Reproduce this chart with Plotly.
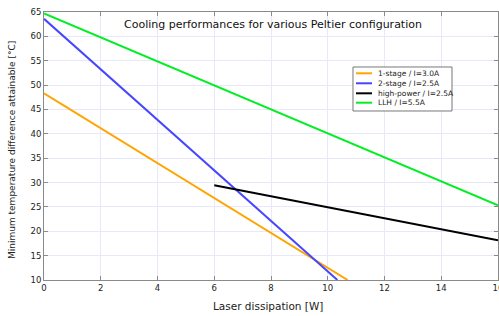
import plotly.graph_objects as go

# Data
series_names = ["1-stage / I=3.0A", "2-stage / I=2.5A", "high-power / I=2.5A", "LLH / I=5.5A"]
x_1stage = [0.0, 10.7]
y_1stage = [48.3, 10.0]
x_2stage = [0.0, 10.34]
y_2stage = [63.6, 10.0]
x_highpower = [6.0, 10.0, 12.0, 16.0]
y_highpower = [29.45, 24.9, 22.7, 18.15]
x_llh = [0.0, 16.0]
y_llh = [64.7, 25.3]
colors = ["#FFA500", "#4646FF", "#000000", "#00EE22"]

x_ticks = [0, 2, 4, 6, 8, 10, 12, 14, 16]
y_ticks = [10, 15, 20, 25, 30, 35, 40, 45, 50, 55, 60, 65]

title_text = "Cooling performances for various Peltier configuration"
x_title = "Laser dissipation [W]"
y_title = "Minimum temperature difference attainable [°C]"

FONT = "DejaVu Sans"

fig = go.Figure()
for name, xs, ys, c in zip(series_names,
                           [x_1stage, x_2stage, x_highpower, x_llh],
                           [y_1stage, y_2stage, y_highpower, y_llh],
                           colors):
    fig.add_trace(go.Scatter(x=xs, y=ys, mode="lines", name=name,
                             line=dict(color=c, width=2), showlegend=False))

axis_common = dict(
    showline=True, linecolor="#8a8a8a", linewidth=1, mirror="ticks",
    ticks="inside", ticklen=4, tickcolor="#8a8a8a",
    showgrid=True, gridcolor="#E8E8FA", gridwidth=1, zeroline=False,
    tickfont=dict(family=FONT, size=8.5, color="#222"),
    automargin=False, ticklabeloverflow="allow",
)

# Manual legend (box, line samples, labels) in paper coordinates
shapes = [dict(type="rect", xref="paper", yref="paper",
               x0=0.6806, x1=0.8987, y0=0.6306, y1=0.7948,
               line=dict(color="#777", width=1), fillcolor="white", layer="above")]
annotations = [
    dict(text=title_text, x=0.505, y=0.955, xref="paper", yref="paper",
         xanchor="center", yanchor="middle", showarrow=False,
         font=dict(family=FONT, size=11, color="#111")),
    dict(text=x_title, x=0.493, y=-0.096, xref="paper", yref="paper",
         xanchor="center", yanchor="middle", showarrow=False,
         font=dict(family=FONT, size=10.5, color="#222")),
    dict(text=y_title, x=-0.0705, y=0.485, xref="paper", yref="paper",
         xanchor="center", yanchor="middle", showarrow=False, textangle=-90,
         font=dict(family=FONT, size=9, color="#222")),
]
legend_y = [0.7713, 0.7340, 0.6966, 0.6616]
for name, c, ly in zip(series_names, colors, legend_y):
    shapes.append(dict(type="line", xref="paper", yref="paper",
                       x0=0.6872, x1=0.7225, y0=ly, y1=ly,
                       line=dict(color=c, width=2), layer="above"))
    annotations.append(dict(text=name, x=0.7313, y=ly, xref="paper", yref="paper",
                            xanchor="left", yanchor="middle", showarrow=False,
                            font=dict(family=FONT, size=7.5, color="#222")))

fig.update_layout(
    width=499, height=316,
    margin=dict(l=44, r=1, t=12, b=36),
    paper_bgcolor="white", plot_bgcolor="white",
    font=dict(family=FONT, size=9, color="#222"),
    xaxis=dict(range=[0, 16], tickvals=x_ticks, **axis_common),
    yaxis=dict(range=[10, 65], tickvals=y_ticks, **axis_common),
    showlegend=False,
    shapes=shapes,
    annotations=annotations,
)

fig.write_html("out.html", config={"displayModeBar": False},
               post_script="document.body.style.margin='0';document.body.style.overflow='hidden';")
